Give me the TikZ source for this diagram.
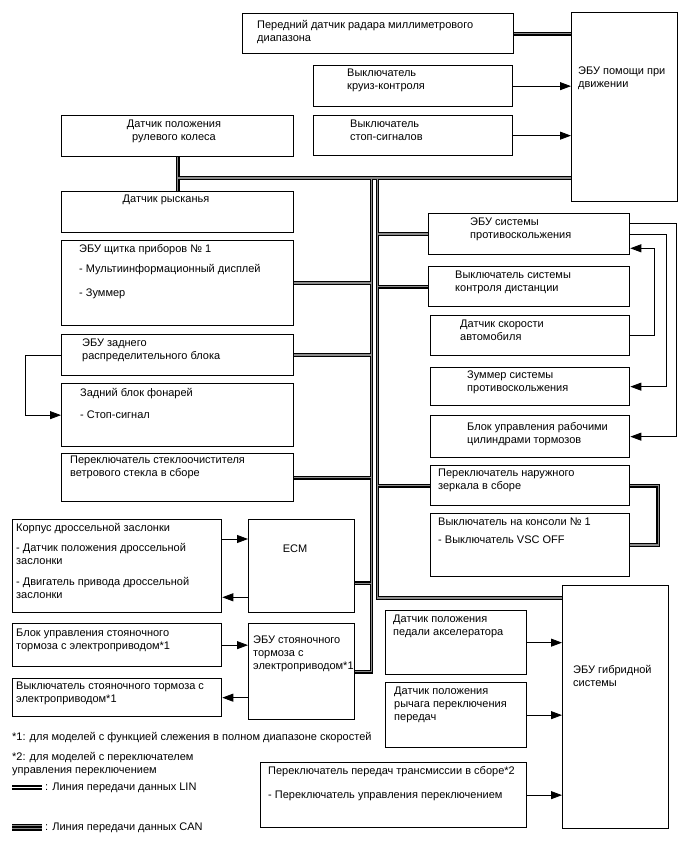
\documentclass[tikz,border=0pt]{standalone}
\usepackage{fontspec}
\setmainfont{Liberation Sans}
\usetikzlibrary{arrows.meta, positioning, calc}

\begin{document}
\begin{tikzpicture}[
    x=1pt, y=-1pt,
    every node/.style={font=\fontsize{11}{13}\selectfont},
    box/.style={rectangle, draw=black, line width=1.3pt, anchor=north west, inner sep=0pt},
    txt/.style={anchor=north west, align=left, inner sep=0pt},
    txtc/.style={anchor=north, align=center, inner sep=0pt},
    arr/.style={-{Triangle[length=11pt, width=8pt]}, line width=0.8pt},
    busout/.style={line width=3.8pt, black},
    busin/.style={line width=1.4pt, black!45}
  ]
  \useasboundingbox (0,0) rectangle (688,852);

  % top: driving support ECU and its inputs
  \node[box, minimum width=271pt, minimum height=40pt] (radar) at (242,13) {};
  \node[box, minimum width=106pt, minimum height=189pt] (assist) at (571,12) {};
  \node[box, minimum width=199pt, minimum height=41pt] (cruise) at (313,65) {};
  \node[box, minimum width=199pt, minimum height=40pt] (stopsw) at (313,115) {};
  \node[txt] (radar-t) at (257,20) {Передний датчик радара миллиметрового\\диапазона};
  \node[txt] (assist-t) at (578,67) {ЭБУ помощи при\\движении};
  \node[txt] (cruise-t) at (347,69) {Выключатель\\круиз-контроля};
  \node[txt] (stopsw-t) at (350,120) {Выключатель\\стоп-сигналов};

  % left column
  \node[box, minimum width=232pt, minimum height=41pt] (steer) at (61,115) {};
  \node[box, minimum width=232pt, minimum height=41pt] (yaw) at (61,191) {};
  \node[box, minimum width=232pt, minimum height=85pt] (instr) at (61,240) {};
  \node[box, minimum width=232pt, minimum height=41pt] (rdist) at (61,334) {};
  \node[box, minimum width=232pt, minimum height=63pt] (lamp) at (61,383) {};
  \node[box, minimum width=232pt, minimum height=48pt] (wiper) at (61,453) {};
  \node[txtc] (steer-t) at (174,120) {Датчик положения\\рулевого колеса};
  \node[txtc] (yaw-t) at (166,195) {Датчик рысканья};
  \node[txt] (instr-t) at (79,244)
        {ЭБУ щитка приборов № 1\\[7pt]- Мультиинформационный дисплей\\[11pt]- Зуммер};
  \node[txt] (rdist-t) at (82,339) {ЭБУ заднего\\распределительного блока};
  \node[txt] (lamp-t) at (80,388) {Задний блок фонарей\\[9pt]- Стоп-сигнал};
  \node[txt] (wiper-t) at (70,456) {Переключатель стеклоочистителя\\ветрового стекла в сборе};

  % ECM and parking brake
  \node[box, minimum width=209pt, minimum height=93pt] (throttle) at (12,519) {};
  \node[box, minimum width=106pt, minimum height=93pt] (ecm) at (248,519) {};
  \node[box, minimum width=209pt, minimum height=43pt] (epbctl) at (12,623) {};
  \node[box, minimum width=106pt, minimum height=96pt] (epb) at (248,623) {};
  \node[box, minimum width=209pt, minimum height=38pt] (epbsw) at (12,678) {};
  \node[txt] (throttle-t) at (16,523)
        {Корпус дроссельной заслонки\\[7pt]- Датчик положения дроссельной\\заслонки\\[8pt]- Двигатель привода дроссельной\\заслонки};
  \node[txtc] (ecm-t) at (295,545) {ECM};
  \node[txt] (epbctl-t) at (16,629) {Блок управления стояночного\\тормоза с электроприводом*1};
  \node[txt] (epb-t) at (253,636) {ЭБУ стояночного\\тормоза с\\электроприводом*1};
  \node[txt] (epbsw-t) at (16,682) {Выключатель стояночного тормоза с\\электроприводом*1};

  % right column
  \node[box, minimum width=201pt, minimum height=41pt] (antiskid) at (428,213) {};
  \node[box, minimum width=201pt, minimum height=40pt] (dist) at (428,266) {};
  \node[box, minimum width=199pt, minimum height=40pt] (speed) at (430,315) {};
  \node[box, minimum width=199pt, minimum height=38pt] (buzzer) at (430,367) {};
  \node[box, minimum width=199pt, minimum height=42pt] (brake) at (430,415) {};
  \node[box, minimum width=199pt, minimum height=40pt] (mirror) at (430,465) {};
  \node[box, minimum width=199pt, minimum height=63pt] (console) at (430,513) {};
  \node[txt] (antiskid-t) at (470,218) {ЭБУ системы\\противоскольжения};
  \node[txt] (dist-t) at (455,271) {Выключатель системы\\контроля дистанции};
  \node[txt] (speed-t) at (460,320) {Датчик скорости\\автомобиля};
  \node[txt] (buzzer-t) at (467,371) {Зуммер системы\\противоскольжения};
  \node[txt] (brake-t) at (467,422) {Блок управления рабочими\\цилиндрами тормозов};
  \node[txt] (mirror-t) at (438,469) {Переключатель наружного\\зеркала в сборе};
  \node[txt] (console-t) at (438,518) {Выключатель на консоли № 1\\[5pt]- Выключатель VSC OFF};

  % hybrid ECU and its inputs
  \node[box, minimum width=106pt, minimum height=243pt] (hybrid) at (562,585) {};
  \node[box, minimum width=141pt, minimum height=64pt] (accel) at (385,610) {};
  \node[box, minimum width=141pt, minimum height=65pt] (lever) at (385,682) {};
  \node[box, minimum width=266pt, minimum height=65pt] (trans) at (260,762) {};
  \node[txt] (hybrid-t) at (573,665) {ЭБУ гибридной\\системы};
  \node[txt] (accel-t) at (393,615) {Датчик положения\\педали акселератора};
  \node[txt] (lever-t) at (394,687) {Датчик положения\\рычага переключения\\передач};
  \node[txt] (trans-t) at (268,766)
        {Переключатель передач трансмиссии в сборе*2\\[11pt]- Переключатель управления переключением};

  % footnotes and legend
  \node[txt] (note1) at (12,732) {*1: для моделей с функцией слежения в полном диапазоне скоростей};
  \node[txt] (note2) at (12,752) {*2: для моделей с переключателем\\управления переключением};
  \node[txt] (lin-t) at (45,783) {: Линия передачи данных LIN};
  \node[txt] (can-t) at (45,823) {: Линия передачи данных CAN};
  \coordinate (lin-a) at (12,787);
  \coordinate (lin-b) at (42,787);
  \coordinate (can-a) at (12,827);
  \coordinate (can-b) at (42,827);

  % bus junctions
  \coordinate (jtop) at (177,178);
  \coordinate (lbus) at (371.5,178);
  \coordinate (rbus) at (377.5,178);
  \coordinate (ecm-bus) at ($(ecm.south east)+(0,-30)$);
  \coordinate (hyb-bus) at ($(hybrid.north west)+(0,13)$);

  % buses, drawn twice: dark edge, then grey core
  \foreach \b in {busout, busin} {
    \draw[\b] (radar.east) -- (radar.east -| assist.west);
    \draw[\b] (steer.south) -- (yaw.north);
    \draw[\b] (jtop) -- (jtop -| assist.west);
    \draw[\b] (lbus) -- (lbus |- epb.east) -- (epb.east);
    \draw[\b] (instr.east) -- (instr.east -| lbus);
    \draw[\b] (rdist.east) -- (rdist.east -| lbus);
    \draw[\b] (wiper.east) -- (wiper.east -| lbus);
    \draw[\b] (ecm-bus) -- (ecm-bus -| lbus);
    \draw[\b] (rbus) -- (rbus |- hyb-bus) -- (hyb-bus);
    \draw[\b] (antiskid.west -| rbus) -- (antiskid.west);
    \draw[\b] (dist.west -| rbus) -- (dist.west);
    \draw[\b] (mirror.west -| rbus) -- (mirror.west);
    \draw[\b] (mirror.east) -- ++(28,0) |- (console.east);
  }

  % legend samples
  \draw[line width=5pt] (lin-a) -- (lin-b);
  \draw[line width=1pt, white] (lin-a) -- (lin-b);
  \draw[line width=7pt] (can-a) -- (can-b);
  \draw[line width=3.6pt, black!45] (can-a) -- (can-b);
  \draw[line width=1.2pt] (can-a) -- (can-b);

  % signal lines
  \draw[arr] (cruise.east) -- (cruise.east -| assist.west);
  \draw[arr] (stopsw.east) -- (stopsw.east -| assist.west);
  \draw[arr] (rdist.west) -- ++(-36,0) |- (lamp.west);
  \draw[arr] ($(throttle.north east)+(0,20)$) -- ($(ecm.north west)+(0,20)$);
  \draw[arr] ($(ecm.south west)+(0,-16)$) -- ($(throttle.south east)+(0,-16)$);
  \draw[arr] (epbctl.east) -- (epbctl.east -| epb.west);
  \draw[arr] (epbsw.east -| epb.west) -- (epbsw.east);
  \draw[arr] ($(antiskid.north east)+(0,10)$) -- ++(46,0) |- (brake.east);
  \draw[arr] (antiskid.east) -- ++(36,0) |- (buzzer.east);
  \draw[arr] (speed.east) -- ++(24,0) |- ($(antiskid.south east)+(0,-7)$);
  \draw[arr] (accel.east) -- (accel.east -| hybrid.west);
  \draw[arr] (lever.east) -- (lever.east -| hybrid.west);
  \draw[arr] (trans.east) -- (trans.east -| hybrid.west);
\end{tikzpicture}
\end{document}
